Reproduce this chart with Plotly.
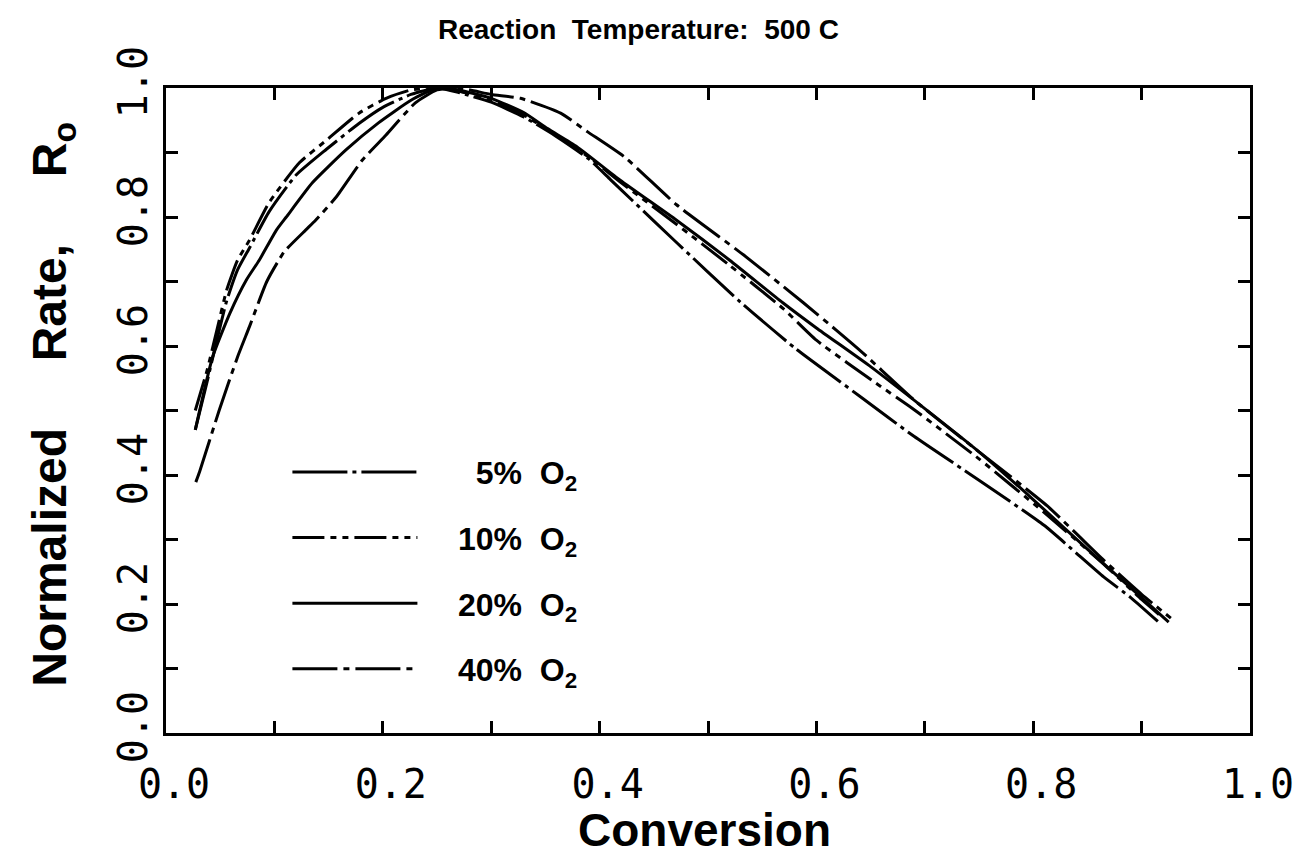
import plotly.graph_objects as go

# Conversion (x) and normalized rate (y) for each O2 level
conv_5 = [0.027, 0.038, 0.047, 0.056, 0.066, 0.077, 0.095, 0.12, 0.148, 0.178, 0.2, 0.226, 0.25, 0.27, 0.30,
          0.33, 0.36, 0.39, 0.41, 0.43, 0.47, 0.53, 0.58, 0.62, 0.64, 0.69, 0.75, 0.81, 0.865, 0.89, 0.915]
rate_5 = [0.47, 0.545, 0.61, 0.67, 0.718, 0.752, 0.808, 0.865, 0.905, 0.945, 0.97, 0.99, 1.0, 0.993, 0.978,
          0.955, 0.925, 0.89, 0.858, 0.826, 0.762, 0.668, 0.597, 0.547, 0.522, 0.46, 0.392, 0.322, 0.242, 0.21, 0.173]

conv_10 = [0.027, 0.038, 0.047, 0.056, 0.066, 0.077, 0.095, 0.123, 0.148, 0.178, 0.203, 0.226, 0.25, 0.27, 0.30,
           0.33, 0.36, 0.39, 0.42, 0.47, 0.52, 0.57, 0.60, 0.657, 0.688, 0.75, 0.81, 0.865, 0.90, 0.92]
rate_10 = [0.50, 0.563, 0.625, 0.687, 0.733, 0.764, 0.822, 0.884, 0.919, 0.961, 0.984, 0.997, 1.0, 0.995, 0.982,
           0.958, 0.927, 0.893, 0.853, 0.79, 0.725, 0.657, 0.609, 0.54, 0.504, 0.425, 0.342, 0.262, 0.207, 0.178]

conv_20 = [0.027, 0.043, 0.059, 0.074, 0.086, 0.102, 0.111, 0.135, 0.166, 0.196, 0.226, 0.25, 0.27, 0.30, 0.33,
           0.352, 0.379, 0.419, 0.471, 0.52, 0.569, 0.60, 0.65, 0.70, 0.75, 0.80, 0.85, 0.90, 0.925]
rate_20 = [0.47, 0.583, 0.651, 0.702, 0.733, 0.78, 0.80, 0.853, 0.904, 0.946, 0.981, 1.0, 0.997, 0.984, 0.962,
           0.937, 0.909, 0.857, 0.795, 0.733, 0.667, 0.628, 0.568, 0.503, 0.436, 0.362, 0.285, 0.21, 0.172]

conv_40 = [0.0275, 0.031, 0.049, 0.066, 0.077, 0.093, 0.109, 0.129, 0.138, 0.157, 0.181, 0.203, 0.23, 0.25, 0.27,
           0.30, 0.327, 0.364, 0.389, 0.423, 0.471, 0.533, 0.588, 0.618, 0.643, 0.691, 0.753, 0.813, 0.865, 0.90, 0.927]
rate_40 = [0.389, 0.405, 0.50, 0.583, 0.63, 0.70, 0.746, 0.78, 0.795, 0.831, 0.888, 0.927, 0.977, 0.997, 1.0,
           0.99, 0.984, 0.961, 0.932, 0.893, 0.819, 0.741, 0.667, 0.625, 0.589, 0.515, 0.432, 0.352, 0.268, 0.215, 0.178]

NB = "\u00a0"
series_names = [NB * 4 + NB * 2 + "5%" + NB * 2 + "O<sub>2</sub>",
                NB * 4 + "10%" + NB * 2 + "O<sub>2</sub>",
                NB * 4 + "20%" + NB * 2 + "O<sub>2</sub>",
                NB * 4 + "40%" + NB * 2 + "O<sub>2</sub>"]

dashes = ["55px,5px,4px,5px", "32px,6px,6px,6px,6px,6px", "solid", "45px,6px,6px,6px"]

fig = go.Figure()
for i, (xs, ys) in enumerate([(conv_5, rate_5), (conv_10, rate_10), (conv_20, rate_20), (conv_40, rate_40)]):
    fig.add_trace(go.Scatter(
        x=xs, y=ys, mode="lines", name=series_names[i], legendgroup=f"g{i}",
        line=dict(color="black", width=3, dash=dashes[i], shape="spline", smoothing=0.5),
    ))

tickfont = dict(family="DejaVu Sans Mono", size=40, color="black")
axis_common = dict(
    range=[0, 1], showline=True, linecolor="black", linewidth=3, mirror="allticks",
    ticks="inside", ticklen=12, tickwidth=2.5, tickcolor="black",
    dtick=0.2, tick0=0, tickformat=".1f", tickfont=tickfont,
    showgrid=False, zeroline=False,
    minor=dict(ticks="inside", ticklen=12, tickwidth=2.5, tickcolor="black", dtick=0.1, showgrid=False),
)

fig.update_layout(
    width=1306, height=868,
    margin=dict(l=166, r=49, t=88, b=135),
    paper_bgcolor="white", plot_bgcolor="white",
    font=dict(family="Liberation Sans, Arial", color="black"),
    xaxis=dict(**axis_common, ticklabelstandoff=14, ticklabelshift=8),
    yaxis=dict(**axis_common, tickangle=-90, ticklabelstandoff=0),
    showlegend=True,
    legend=dict(
        x=0.112, y=0.447, xanchor="left", yanchor="top",
        font=dict(family="Liberation Sans, Arial", size=32, color="black", weight="bold"),
        itemwidth=125, tracegroupgap=21, bgcolor="rgba(0,0,0,0)", borderwidth=0,
    ),
    annotations=[
        dict(text="<b>Reaction" + NB * 2 + "Temperature:" + NB * 2 + "500 C</b>", xref="paper", yref="paper",
             x=(642 - 166) / 1091, y=(733 - 30) / 645, xanchor="center", yanchor="middle",
             showarrow=False, font=dict(size=28, family="Liberation Sans, Arial")),
        dict(text="<b>Conversion</b>", xref="paper", yref="paper",
             x=(708 - 166) / 1091, y=(733 - 830) / 645, xanchor="center", yanchor="middle",
             showarrow=False, font=dict(size=46, family="Liberation Sans, Arial")),
        dict(text="<b>Normalized" + NB * 5 + "Rate," + NB * 5 + "R<sub>o</sub></b>", xref="paper", yref="paper",
             x=(52 - 166) / 1091, y=(733 - 404) / 645, xanchor="center", yanchor="middle",
             textangle=-90, showarrow=False, font=dict(size=48, family="Liberation Sans, Arial")),
    ],
)

fig.write_html("out.html")
